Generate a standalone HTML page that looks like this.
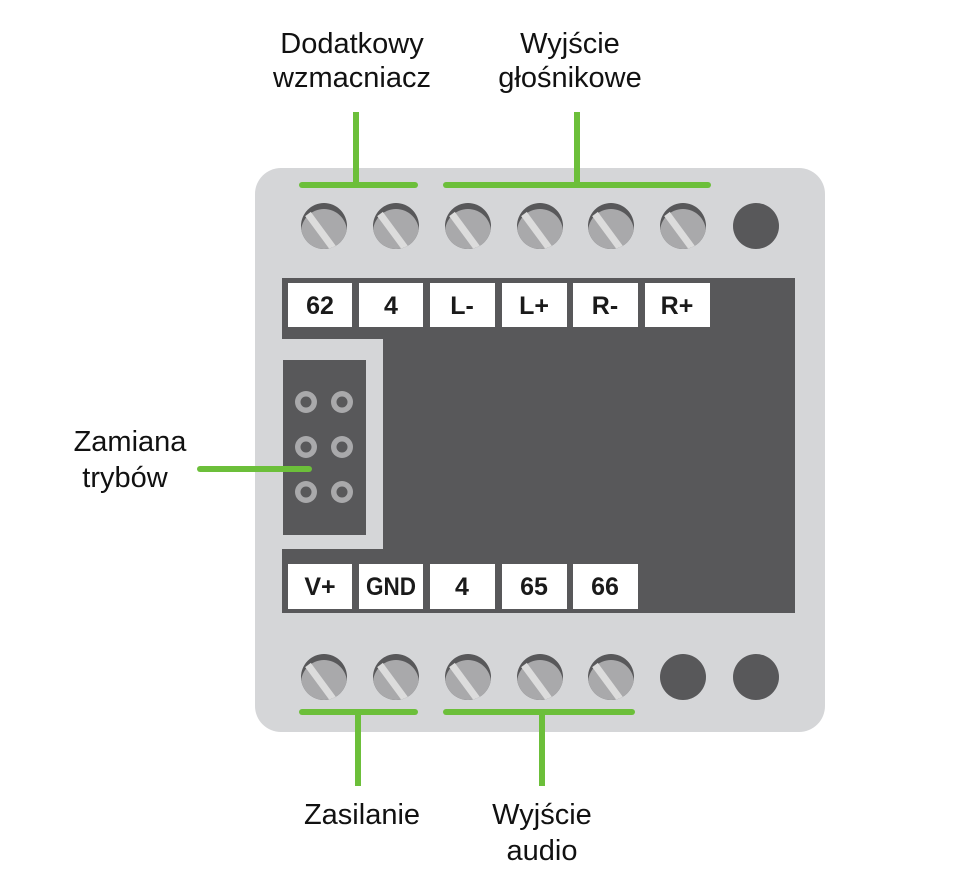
<!DOCTYPE html>
<html><head><meta charset="utf-8"><style>
html,body{margin:0;padding:0;background:#fff;}
svg{display:block}
text{font-family:"Liberation Sans",Arial,sans-serif;}
</style></head><body>
<svg width="953" height="884" viewBox="0 0 953 884" xmlns="http://www.w3.org/2000/svg">
<defs>
<clipPath id="sc"><circle cx="0" cy="0" r="23"/></clipPath>
<g id="screw">
  <circle cx="0" cy="0" r="23" fill="#58585a"/>
  <g clip-path="url(#sc)">
    <circle cx="0" cy="6" r="23" fill="#a9a9ab"/>
    <line x1="-16" y1="-12" x2="12" y2="26" stroke="#dcdcdc" stroke-width="7"/>
  </g>
</g>
<g id="pin"><circle r="11" fill="#a9a9ab"/><circle r="5.5" fill="#58585a"/></g>
</defs>
<rect x="255" y="168" width="570" height="564" rx="26" fill="#d5d6d8"/>
<rect x="282" y="278" width="513" height="335" fill="#58585a"/>
<rect x="282" y="339" width="101" height="210" fill="#d5d6d8"/>
<rect x="283" y="360" width="83" height="175" fill="#58585a"/>
<use href="#pin" x="306" y="402"/><use href="#pin" x="342" y="402"/>
<use href="#pin" x="306" y="447"/><use href="#pin" x="342" y="447"/>
<use href="#pin" x="306" y="492"/><use href="#pin" x="342" y="492"/>
<g fill="#fff">
<rect x="288" y="283" width="64" height="44"/><rect x="359" y="283" width="64" height="44"/>
<rect x="430" y="283" width="65" height="44"/><rect x="502" y="283" width="65" height="44"/>
<rect x="573" y="283" width="65" height="44"/><rect x="645" y="283" width="65" height="44"/>
<rect x="288" y="564" width="64" height="45"/><rect x="359" y="564" width="64" height="45"/>
<rect x="430" y="564" width="65" height="45"/><rect x="502" y="564" width="65" height="45"/>
<rect x="573" y="564" width="65" height="45"/>
</g>
<g font-weight="bold" font-size="25" fill="#1a1a1a" text-anchor="middle">
<text x="320" y="314">62</text><text x="391" y="314">4</text><text x="462" y="314">L-</text>
<text x="534" y="314">L+</text><text x="605" y="314">R-</text><text x="677" y="314">R+</text>
<text x="320" y="595">V+</text><text x="391" y="595" textLength="50" lengthAdjust="spacingAndGlyphs">GND</text><text x="462" y="595">4</text>
<text x="534" y="595">65</text><text x="605" y="595">66</text>
</g>
<use href="#screw" x="324" y="226"/><use href="#screw" x="396" y="226"/><use href="#screw" x="468" y="226"/>
<use href="#screw" x="540" y="226"/><use href="#screw" x="611" y="226"/><use href="#screw" x="683" y="226"/>
<circle cx="756" cy="226" r="23" fill="#58585a"/>
<use href="#screw" x="324" y="677"/><use href="#screw" x="396" y="677"/><use href="#screw" x="468" y="677"/>
<use href="#screw" x="540" y="677"/><use href="#screw" x="611" y="677"/>
<circle cx="683" cy="677" r="23" fill="#58585a"/><circle cx="756" cy="677" r="23" fill="#58585a"/>
<g stroke="#6cbf3a" stroke-width="6" stroke-linecap="round" fill="none">
<line x1="302" y1="185" x2="415" y2="185"/><line x1="356" y1="112" x2="356" y2="185" stroke-linecap="butt"/>
<line x1="446" y1="185" x2="708" y2="185"/><line x1="577" y1="112" x2="577" y2="185" stroke-linecap="butt"/>
<line x1="200" y1="469" x2="309" y2="469"/>
<line x1="302" y1="712" x2="415" y2="712"/><line x1="358" y1="712" x2="358" y2="786" stroke-linecap="butt"/>
<line x1="446" y1="712" x2="632" y2="712"/><line x1="542" y1="712" x2="542" y2="786" stroke-linecap="butt"/>
</g>
<g font-size="29" fill="#111" text-anchor="middle">
<text x="352" y="53">Dodatkowy</text><text x="352" y="87">wzmacniacz</text>
<text x="570" y="53">Wyjście</text><text x="570" y="87">głośnikowe</text>
<text x="130" y="451">Zamiana</text><text x="125" y="487">trybów</text>
<text x="362" y="824">Zasilanie</text>
<text x="542" y="824">Wyjście</text><text x="542" y="860">audio</text>
</g>
</svg>
</body></html>
